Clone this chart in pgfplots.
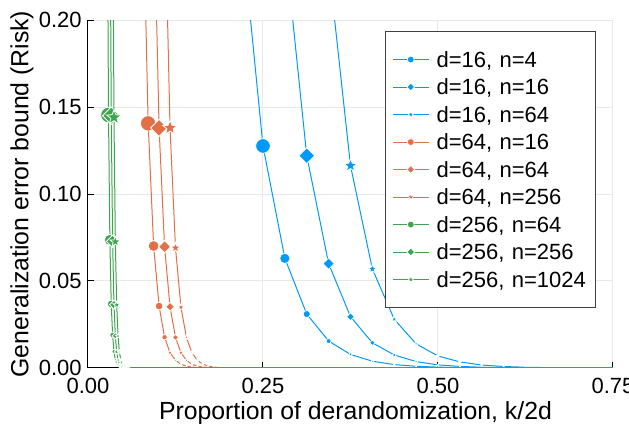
\documentclass[border=0pt]{standalone}
\usepackage{fontspec}
\setmainfont{Liberation Sans}
\usepackage{pgfplots}
\pgfplotsset{compat=1.18}

\definecolor{cb}{HTML}{009AFA}
\definecolor{co}{HTML}{E36F47}
\definecolor{cg}{HTML}{3EA44E}

% filled diamond and five-point star, sized like the circle
\pgfdeclareplotmark{dmd}{%
  \pgfpathmoveto{\pgfpoint{0pt}{1.12\pgfplotmarksize}}%
  \pgfpathlineto{\pgfpoint{1.12\pgfplotmarksize}{0pt}}%
  \pgfpathlineto{\pgfpoint{0pt}{-1.12\pgfplotmarksize}}%
  \pgfpathlineto{\pgfpoint{-1.12\pgfplotmarksize}{0pt}}%
  \pgfpathclose\pgfusepathqfillstroke}
\pgfdeclareplotmark{fstar}{%
  \pgfpathmoveto{\pgfpointpolar{90}{\pgfplotmarksize}}%
  \pgfpathlineto{\pgfpointpolar{126}{0.42\pgfplotmarksize}}%
  \pgfpathlineto{\pgfpointpolar{162}{\pgfplotmarksize}}%
  \pgfpathlineto{\pgfpointpolar{198}{0.42\pgfplotmarksize}}%
  \pgfpathlineto{\pgfpointpolar{234}{\pgfplotmarksize}}%
  \pgfpathlineto{\pgfpointpolar{270}{0.42\pgfplotmarksize}}%
  \pgfpathlineto{\pgfpointpolar{306}{\pgfplotmarksize}}%
  \pgfpathlineto{\pgfpointpolar{342}{0.42\pgfplotmarksize}}%
  \pgfpathlineto{\pgfpointpolar{18}{\pgfplotmarksize}}%
  \pgfpathlineto{\pgfpointpolar{54}{0.42\pgfplotmarksize}}%
  \pgfpathclose\pgfusepathqfillstroke}

\pgfplotsset{
  ser/.style 2 args={#1, line width=0.5pt, mark=#2, scatter, point meta=y,
    scatter/use mapped color={draw=white, fill=#1},
    mark options={line width=0.4pt},
    visualization depends on={10.25*sqrt(\thisrow{y}) \as \ms},
    scatter/@pre marker code/.append style={/tikz/mark size=\ms},
    forget plot},
  leg/.style 2 args={#1, line width=0.5pt, mark=#2, mark size=1.7pt,
    mark options={draw=white, fill=#1, line width=0.3pt}},
}

\begin{document}
\begin{tikzpicture}
\begin{axis}[
  scale only axis, width=262.5pt, height=174pt,
  xmin=0, xmax=0.75, ymin=0, ymax=0.2,
  xtick={0,0.25,0.5,0.75}, ytick={0,0.05,0.1,0.15,0.2},
  /pgf/number format/fixed, /pgf/number format/fixed zerofill,
  /pgf/number format/precision=2,
  /pgf/number format/assume math mode=true,
  ticklabel style={font=\fontsize{11}{13}\selectfont},
  xticklabel style={inner ysep=0pt, yshift=-5pt},
  yticklabel style={inner xsep=0pt, xshift=-3pt},
  axis x line*=bottom, axis y line*=left,
  axis line style={-, black, line width=0.5pt},
  tick align=inside, major tick length=3pt,
  tick style={black, line width=0.5pt},
  grid=major, major grid style={gray!18, line width=0.5pt},
  clip marker paths=true,
  xlabel={Proportion of derandomization, k/2d},
  ylabel={Generalization error bound (Risk)},
  label style={font=\fontsize{12.4}{14}\selectfont},
  xlabel style={at={(axis description cs:0.5095,-0.0948)}, anchor=north, inner sep=0pt},
  ylabel style={at={(axis description cs:-0.1486,0.5)}, anchor=north, inner sep=0pt},
  legend style={at={(axis description cs:0.5657,0.9684)}, anchor=north west,
    draw=black!75, line width=0.6pt, fill=white,
    inner xsep=3.35pt, inner ysep=7.1pt, row sep=0pt, column sep=3.65pt,
    font=\fontsize{11}{13}\selectfont,
    nodes={inner sep=0pt, text height=10.8pt, text depth=2.95pt, text width=76pt, align=left}},
  legend cell align=left,
  legend image code/.code={\draw[mark repeat=2,mark phase=2,#1] plot coordinates {(0pt,0pt)(9pt,0pt)(18pt,0pt)};},
]

% d=16, x = k/32
\addplot[ser={cb}{*}] table {
x y
0.21875 0.255
0.25 0.1276
0.28125 0.063
0.3125 0.031
0.34375 0.0155
0.375 0.0078
0.40625 0.0039
0.4375 0.00195
0.46875 0.00098
0.5 0.00049
0.53125 0.00024
0.5625 0.00012
0.59375 0.00006
0.625 0.00003
0.65625 0.000015
0.6875 0.000008
0.71875 0.000004
0.75 0.000002
1.0 0
};
\addplot[ser={cb}{dmd}] table {
x y
0.28125 0.244
0.3125 0.122
0.34375 0.060
0.375 0.0295
0.40625 0.0145
0.4375 0.0075
0.46875 0.0037
0.5 0.0018
0.53125 0.0009
0.5625 0.00045
0.59375 0.00022
0.625 0.00011
0.65625 0.000055
0.6875 0.000028
0.71875 0.000014
0.75 0.000007
1.0 0
};
\addplot[ser={cb}{fstar}] table {
x y
0.34375 0.232
0.375 0.1163
0.40625 0.0569
0.4375 0.028
0.46875 0.0139
0.5 0.0069
0.53125 0.0035
0.5625 0.0017
0.59375 0.00087
0.625 0.00043
0.65625 0.00022
0.6875 0.00011
0.71875 0.000054
0.75 0.000027
1.0 0
};

% d=64, x = k/128
\addplot[ser={co}{*}] table {
x y
0.078125 0.281
0.0859375 0.1406
0.09375 0.0701
0.1015625 0.0356
0.109375 0.0177
0.1171875 0.0088
0.125 0.0044
0.1328125 0.0022
0.140625 0.0011
0.1484375 0.00055
0.15625 0.00028
0.1640625 0.00014
0.171875 0.00007
0.1796875 0.000035
0.1875 0.000017
1.0 0
};
\addplot[ser={co}{dmd}] table {
x y
0.09375 0.276
0.1015625 0.138
0.109375 0.0697
0.1171875 0.0352
0.125 0.0176
0.1328125 0.0088
0.140625 0.0044
0.1484375 0.0022
0.15625 0.0011
0.1640625 0.00055
0.171875 0.00027
0.1796875 0.00014
0.1875 0.00007
0.1953125 0.000034
1.0 0
};
\addplot[ser={co}{fstar}] table {
x y
0.109375 0.276
0.1171875 0.138
0.125 0.069
0.1328125 0.0349
0.140625 0.0176
0.1484375 0.0088
0.15625 0.0044
0.1640625 0.0022
0.171875 0.0011
0.1796875 0.00055
0.1875 0.00027
0.1953125 0.00014
0.203125 0.00007
0.2109375 0.000034
1.0 0
};

% d=256, x = k/512
\addplot[ser={cg}{*}] table {
x y
0.02734 0.29
0.02930 0.1454
0.03125 0.0736
0.03320 0.0368
0.03516 0.019
0.03711 0.0095
0.03906 0.0047
0.04102 0.0024
0.04297 0.0012
0.04492 0.0006
0.04688 0.0003
0.04883 0.00015
0.05078 0.000075
1.0 0
};
\addplot[ser={cg}{dmd}] table {
x y
0.03125 0.29
0.03320 0.145
0.03516 0.0728
0.03711 0.0364
0.03906 0.0185
0.04102 0.0093
0.04297 0.0046
0.04492 0.0023
0.04688 0.0012
0.04883 0.0006
0.05078 0.0003
0.05273 0.00015
0.05469 0.000075
1.0 0
};
\addplot[ser={cg}{fstar}] table {
x y
0.03516 0.288
0.03711 0.144
0.03906 0.0725
0.04102 0.0362
0.04297 0.0183
0.04492 0.0092
0.04688 0.0046
0.04883 0.0023
0.05078 0.0012
0.05273 0.0006
0.05469 0.0003
0.05664 0.00015
0.05859 0.000075
1.0 0
};

\addlegendimage{leg={cb}{*}}\addlegendentry{d=16, n=4}
\addlegendimage{leg={cb}{dmd}}\addlegendentry{d=16, n=16}
\addlegendimage{leg={cb}{fstar}}\addlegendentry{d=16, n=64}
\addlegendimage{leg={co}{*}}\addlegendentry{d=64, n=16}
\addlegendimage{leg={co}{dmd}}\addlegendentry{d=64, n=64}
\addlegendimage{leg={co}{fstar}}\addlegendentry{d=64, n=256}
\addlegendimage{leg={cg}{*}}\addlegendentry{d=256, n=64}
\addlegendimage{leg={cg}{dmd}}\addlegendentry{d=256, n=256}
\addlegendimage{leg={cg}{fstar}}\addlegendentry{d=256, n=1024}
\end{axis}
\pgfresetboundingbox
\useasboundingbox (-44pt,-28pt) rectangle (270.5pt,184pt);
\end{tikzpicture}
\end{document}
